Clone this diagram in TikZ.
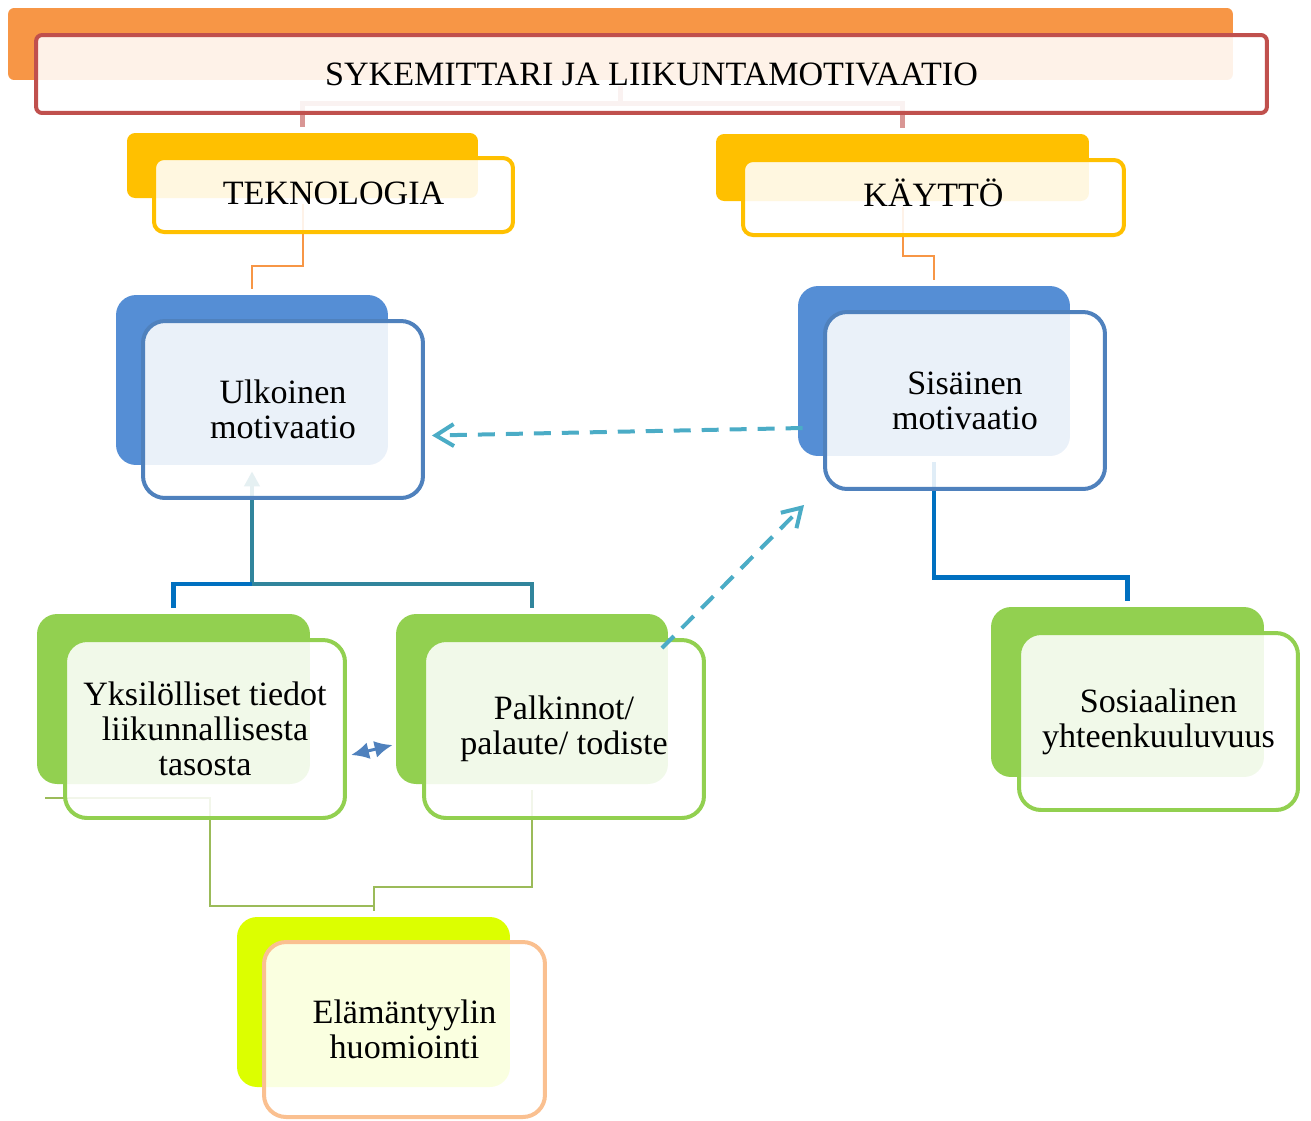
\documentclass[tikz,border=0pt]{standalone}
\usepackage{fontspec}
\setmainfont{Liberation Serif}
\usetikzlibrary{calc}
\usetikzlibrary{arrows.meta}
\definecolor{orangeb}{HTML}{F79646}
\definecolor{titler}{HTML}{C0504D}
\definecolor{pinkl}{HTML}{D99694}
\definecolor{goldb}{HTML}{FFC000}
\definecolor{blueb}{HTML}{558ED5}
\definecolor{bluef}{HTML}{4F81BD}
\definecolor{blue1}{HTML}{0070C0}
\definecolor{teal1}{HTML}{31859C}
\definecolor{greenb}{HTML}{92D050}
\definecolor{green2}{HTML}{9BBB59}
\definecolor{limeb}{HTML}{DCFF00}
\definecolor{peach}{HTML}{FAC090}
\definecolor{cyan1}{HTML}{4BACC6}
\newcommand{\capline}[1]{\raisebox{1pt}[12.8pt][0pt]{#1}}

\begin{document}
\begin{tikzpicture}[x=0.02cm,y=-0.02cm]
\tikzstyle{back}=[rectangle,inner sep=0pt,rounded corners=0.4cm]
\tikzstyle{front}=[rectangle,align=center,line width=0.08cm,rounded corners=0.44cm,fill=white,fill opacity=0.88,text opacity=1,font=\fontsize{19.4}{19.8}\selectfont]
\tikzstyle{link}=[line width=0.09cm,shorten <=0.12cm,shorten >=0.12cm]
\tikzstyle{dasharrow}=[draw=cyan1,line width=0.08cm,dash pattern=on 0.34cm off 0.22cm,-{Straight Barb[length=0.36cm,width=0.44cm]}]
\useasboundingbox (0,0) rectangle (1311,1120);

% back shapes
\node[back,fill=orangeb,minimum width=24.5cm,minimum height=1.44cm,rounded corners=0.12cm] at(620.5,44) (titleb) {};
\node[back,fill=goldb,minimum width=7.02cm,minimum height=1.3cm,rounded corners=0.16cm] at(302.5,165.5) (tekb) {};
\node[back,fill=goldb,minimum width=7.46cm,minimum height=1.34cm,rounded corners=0.16cm] at(902.5,167.5) (kayb) {};
\node[back,fill=blueb,minimum width=5.44cm,minimum height=3.4cm] at(252,380) (ulkb) {};
\node[back,fill=blueb,minimum width=5.44cm,minimum height=3.4cm] at(934,371) (sisb) {};
\node[back,fill=greenb,minimum width=5.46cm,minimum height=3.4cm] at(173.5,699) (yksb) {};
\node[back,fill=greenb,minimum width=5.44cm,minimum height=3.4cm] at(532,699) (palkb) {};
\node[back,fill=greenb,minimum width=5.46cm,minimum height=3.4cm] at(1127.5,692) (sosb) {};
\node[back,fill=limeb,minimum width=5.46cm,minimum height=3.4cm] at(373.5,1002) (elab) {};

% connectors
\coordinate (ujoin) at (252,584);
\coordinate (yksend) at (45,798);
\draw[link,pinkl,line width=0.1cm] (titleb.south) -- ++(0,23) -| (tekb.north);
\draw[link,pinkl,line width=0.1cm] (titleb.south) -- ++(0,23) -| (kayb.north);
\draw[link,orangeb,line width=0.04cm] (tekb.south) -- ++(0,68) -| (ulkb.north);
\draw[link,orangeb,line width=0.04cm] (kayb.south) -- ++(0,55) -| (sisb.north);
\draw[link,teal1,{Triangle[length=0.3cm,width=0.3cm]}-] (ulkb.south) -- (ujoin) -| (palkb.north);
\draw[link,blue1,shorten <=0pt] (ujoin) -| (yksb.north);
\draw[link,blue1] (sisb.south) -- ++(0,121) -| (sosb.north);
\draw[link,green2,line width=0.04cm,shorten <=0pt] (yksend) -| ++(165,108) -| (elab.north);
\draw[link,green2,line width=0.04cm] (palkb.south) -- ++(0,103) -| (elab.north);

% front boxes
\node[front,draw=titler,minimum width=24.62cm,minimum height=1.56cm,rounded corners=0.12cm] at(651.5,74) (titlef) {SYKEMITTARI JA LIIKUNTAMOTIVAATIO};
\node[front,draw=goldb,minimum width=7.18cm,minimum height=1.48cm,rounded corners=0.2cm] at(333.5,195) (tekf) {\capline{TEKNOLOGIA}};
\node[front,draw=goldb,minimum width=7.62cm,minimum height=1.5cm,rounded corners=0.2cm] at(933.5,197.5) (kayf) {\capline{KÄYTTÖ}};
\node[front,draw=bluef,minimum width=5.6cm,minimum height=3.54cm] at(283,409.5) (ulkf) {Ulkoinen\\motivaatio};
\node[front,draw=bluef,minimum width=5.6cm,minimum height=3.54cm] at(965,400.5) (sisf) {Sisäinen\\motivaatio};
\node[front,draw=greenb,minimum width=5.6cm,minimum height=3.56cm] at(205,729) (yksf) {Yksilölliset tiedot\\liikunnallisesta\\tasosta};
\node[front,draw=greenb,minimum width=5.6cm,minimum height=3.56cm] at(564,729) (palkf) {Palkinnot/\\palaute/ todiste};
\node[front,draw=greenb,minimum width=5.58cm,minimum height=3.54cm] at(1158.5,721.5) (sosf) {Sosiaalinen\\yhteenkuuluvuus};
\node[front,draw=peach,minimum width=5.62cm,minimum height=3.5cm] at(404.5,1029.5) (elaf) {Elämäntyylin\\huomiointi};

% arrows on top
\draw[dasharrow] ($(sisb.west)+(5,57)$) -- ($(ulkf.east)+(7,26)$);
\draw[dasharrow] ($(palkf.north east)+(-44,10)$) -- ($(sisf.south west)+(-19,14)$);
\draw[bluef,line width=0.06cm,{Latex[length=0.36cm,width=0.34cm]}-{Latex[length=0.36cm,width=0.34cm]}] ($(yksf.east)+(4,26)$) -- ($(palkb.west)+(-3,46)$);
\end{tikzpicture}
\end{document}
